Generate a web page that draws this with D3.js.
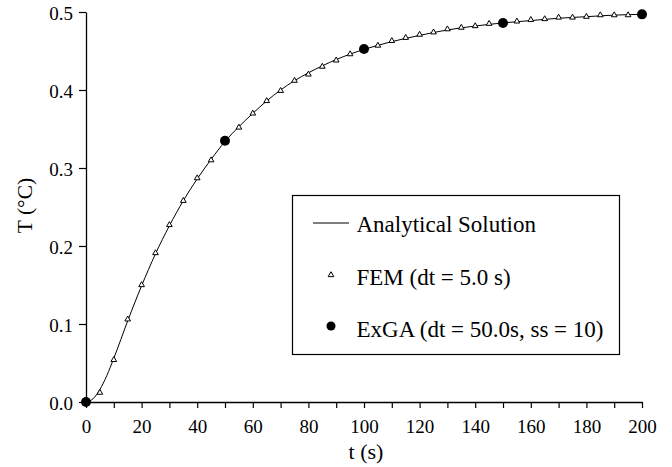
<!DOCTYPE html>
<html><head><meta charset="utf-8">
<script src="https://cdn.jsdelivr.net/npm/d3@7"></script>
<style>body{margin:0;background:#fff}svg{display:block}</style>
</head><body><svg id="c" width="672" height="467"></svg>
<script>
// Data
const feT = [5,10,15,20,25,30,35,40,45,50,55,60,65,70,75,80,85,90,95,100,105,110,115,120,125,130,135,140,145,150,155,160,165,170,175,180,185,190,195,200];
const feV = [0.012,0.054,0.106,0.150,0.191,0.227,0.258,0.287,0.310,0.334,0.352,0.370,0.386,0.399,0.412,0.420,0.430,0.438,0.446,0.452,0.457,0.463,0.467,0.471,0.474,0.478,0.480,0.482,0.485,0.486,0.488,0.490,0.491,0.493,0.493,0.494,0.496,0.496,0.496,0.497];
const anT = [0,2.5,5,7.5,10,15,20,25,30,35,40,45,50,55,60,65,70,75,80,85,90,95,100,110,120,130,140,150,160,170,180,190,200];
const anV = [0,0.004,0.016,0.034,0.056,0.104,0.149,0.190,0.226,0.258,0.286,0.311,0.334,0.353,0.370,0.386,0.400,0.412,0.422,0.431,0.439,0.446,0.452,0.462,0.470,0.477,0.482,0.486,0.489,0.492,0.494,0.496,0.497];
const gaT = [0,50,100,150,200];
const gaV = [0,0.335,0.4526,0.486,0.497];
const xTicks = [0,20,40,60,80,100,120,140,160,180,200];
const yTicks = [0.0,0.1,0.2,0.3,0.4,0.5];
const legendLabels = ["Analytical Solution","FEM (dt = 5.0 s)","ExGA (dt = 50.0s, ss = 10)"];

const FONT = "Liberation Serif";
const svg = d3.select("#c");
const x = d3.scaleLinear().domain([0,200]).range([86,642]);
const y = d3.scaleLinear().domain([0,0.5]).range([402,12]);

// axes
const xa = svg.append("g").attr("transform","translate(0,402)")
  .call(d3.axisBottom(x).tickValues(d3.range(0,201,10)).tickSize(6).tickSizeOuter(0)
    .tickFormat(d=> xTicks.includes(d)? d3.format("d")(d):""));
const ya = svg.append("g").attr("transform","translate(86,0)")
  .call(d3.axisLeft(y).tickValues(yTicks).tickSize(7).tickSizeOuter(0).tickFormat(d3.format(".1f")));
[xa,ya].forEach(a=>{
  a.selectAll("path").attr("stroke","#000").attr("stroke-width",1.3);
  a.selectAll("line").attr("stroke","#000").attr("stroke-width",1.2);
  a.selectAll("text").attr("fill","#000").style("font-family",FONT).style("font-size","19px");
});
xa.selectAll("text").attr("dy","0").attr("y",31);
ya.selectAll("text").attr("x",-13).attr("dy","0.42em");

svg.append("text").style("font-family",FONT).style("font-size","22px").attr("x",366).attr("y",459).attr("text-anchor","middle").text("t (s)");
svg.append("text").style("font-family",FONT).style("font-size","21.5px").attr("transform","translate(32,205.5) rotate(-90)").attr("text-anchor","middle").text("T (°C)");

// analytical line
const line = d3.line().x(d=>x(d[0])).y(d=>y(d[1])).curve(d3.curveMonotoneX);
svg.append("path").datum(anT.map((t,i)=>[t,anV[i]])).attr("d",line).attr("fill","none").attr("stroke","#000").attr("stroke-width",1);

// FEM triangles
const tri = d3.symbol().type(d3.symbolTriangle).size(14);
svg.append("g").selectAll("path").data(feT.map((t,i)=>[t,feV[i]])).join("path")
  .attr("d",tri).attr("transform",d=>`translate(${x(d[0])},${y(d[1])})`)
  .attr("fill","#fff").attr("stroke","#000").attr("stroke-width",1);

// ExGA circles
svg.append("g").selectAll("circle").data(gaT.map((t,i)=>[t,gaV[i]])).join("circle")
  .attr("cx",d=>x(d[0])).attr("cy",d=>y(d[1])).attr("r",5).attr("fill","#000");

// legend
const lg = svg.append("g");
lg.append("rect").attr("x",292.5).attr("y",195.5).attr("width",327).attr("height",159).attr("fill","#fff").attr("stroke","#000").attr("stroke-width",1.2);
lg.append("line").attr("x1",313).attr("x2",349).attr("y1",223).attr("y2",223).attr("stroke","#000").attr("stroke-width",1);
lg.append("path").attr("d",tri).attr("transform","translate(331,275)").attr("fill","#fff").attr("stroke","#000").attr("stroke-width",1);
lg.append("circle").attr("cx",331).attr("cy",326).attr("r",4.5).attr("fill","#000");
const ly = [232,285,337];
legendLabels.forEach((s,i)=>{
  lg.append("text").style("font-family",FONT).style("font-size","23px").attr("x",356.5).attr("y",ly[i]).text(s);
});
</script></body></html>
